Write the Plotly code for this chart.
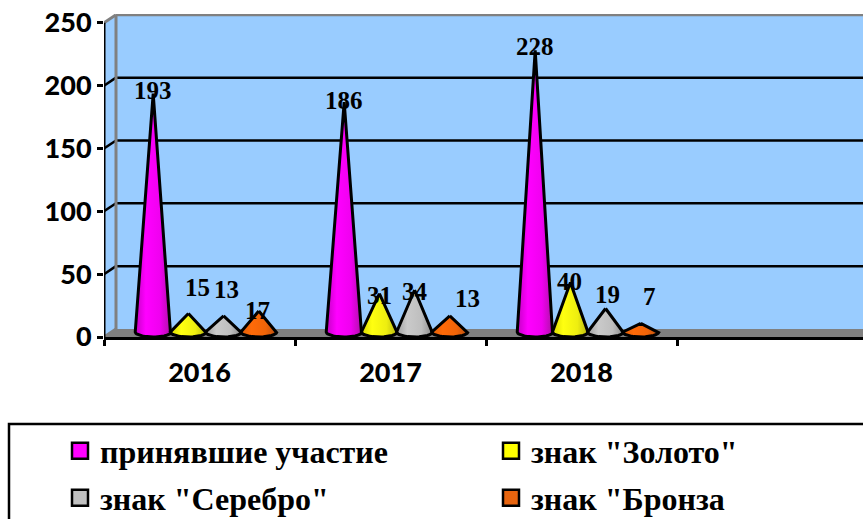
import numpy as np
import plotly.graph_objects as go

years = ["2016", "2017", "2018"]
series_names = ["принявшие участие", 'знак "Золото"', 'знак "Серебро"', 'знак "Бронза']
participated = [193, 186, 228]
gold = [15, 31, 40]
silver = [13, 34, 19]
bronze = [17, 13, 7]
y_ticks = [0, 50, 100, 150, 200, 250]

series_values = [participated, gold, silver, bronze]
swatch_colors = ["#FF00FF", "#FFFF00", "#C0C0C0", "#E8650F"]
gradients = [
    ["#C400C4", "#FF00FF", "#F000F0", "#B010A8"],
    ["#D8D800", "#FFFF10", "#EEEE10", "#B8B810"],
    ["#A0A0A0", "#CACACA", "#BEBEBE", "#8C8C8C"],
    ["#E06008", "#FF6A08", "#F06408", "#B85010"],
]
# pixel nudges of the value labels, per series then per year
label_shift_x = [[0, 0, 0], [9, 0, -1], [3, 0, 2], [-1, 18, 9]]
label_shift_y = [[4, 3, 4], [31, 3, 5], [31, 3, 19], [5, 22, 32]]
# legend cell anchors in pixels
legend_x = [60, 491, 60, 491]
legend_y = [451, 451, 498, 498]

W, H = 863, 519
ML, MT, MB = 104, 14, 182
PX_PER_CAT = 191.0
PW = W - ML
PH = H - MT - MB
X0 = -0.5
X1 = X0 + PW / PX_PER_CAT
Y1 = 257.0
PX_PER_UNIT = PH / Y1
DX = 12 / PX_PER_CAT      # depth of the 3D box in x
DY = 8 / PX_PER_UNIT      # depth of the 3D box in y

px = lambda p: (p - ML) / PW
py = lambda p: (H - MB - p) / PH

STEP = 0.1843
GROUP_SHIFT = 0.034
HALF_W = 0.094
BASE_Y = 4.0
HEIGHT_K = 0.983

fig = go.Figure()

t = np.linspace(0, np.pi, 25)
for s, vals in enumerate(series_values):
    for c, v in enumerate(vals):
        cx = c + GROUP_SHIFT + (s - 1.5) * STEP
        xs = [cx] + list(cx + HALF_W * np.cos(t)) + [cx]
        ys = [BASE_Y + v * HEIGHT_K] + list(BASE_Y - BASE_Y * np.sin(t)) + [BASE_Y + v * HEIGHT_K]
        g = gradients[s]
        fig.add_trace(go.Scatter(
            x=xs, y=ys, mode="lines", fill="toself",
            fillgradient=dict(type="horizontal", colorscale=[[0, g[0]], [0.3, g[1]], [0.7, g[2]], [1, g[3]]]),
            line=dict(color="black", width=3),
            showlegend=False, hoverinfo="skip",
        ))

legend_ids = ["legend", "legend2", "legend3", "legend4"]
for s, name in enumerate(series_names):
    fig.add_trace(go.Scatter(
        x=[None], y=[None], mode="markers", name=name,
        marker=dict(symbol="square", size=19, color=swatch_colors[s], line=dict(color="black", width=2.5)),
        legend=legend_ids[s],
    ))

shapes = []
# side wall, back wall, floor
shapes.append(dict(type="path", layer="below", line=dict(width=0), fillcolor="#99CCFF",
                   path=f"M {X0} 0 L {X0 + DX} {DY} L {X0 + DX} {250 + DY} L {X0} 250 Z"))
shapes.append(dict(type="rect", layer="below", line=dict(width=0), fillcolor="#99CCFF",
                   x0=X0 + DX, x1=X1, y0=0, y1=250 + DY))
shapes.append(dict(type="path", layer="below", line=dict(width=0), fillcolor="#808080",
                   path=f"M {X0} 0 L {X0 + DX} {DY} L {X1} {DY} L {X1} 0 Z"))
# grid lines on walls
for v in y_ticks[1:-1]:
    shapes.append(dict(type="line", layer="below", x0=X0 + DX, x1=X1, y0=v + DY, y1=v + DY,
                       line=dict(color="black", width=2.5)))
    shapes.append(dict(type="line", layer="below", x0=X0, x1=X0 + DX, y0=v, y1=v + DY,
                       line=dict(color="black", width=2.5)))
# gray wall edges
gray = dict(color="#808080", width=3)
shapes.append(dict(type="line", layer="below", x0=X0 + DX, x1=X1, y0=250 + DY, y1=250 + DY, line=gray))
shapes.append(dict(type="line", layer="below", x0=X0 + DX, x1=X0 + DX, y0=DY, y1=250 + DY, line=gray))
shapes.append(dict(type="line", layer="below", x0=X0, x1=X0 + DX, y0=250, y1=250 + DY, line=gray))
shapes.append(dict(type="line", layer="below", x0=X0, x1=X0 + DX, y0=0, y1=DY, line=gray))
# value axis line
shapes.append(dict(type="line", x0=X0, x1=X0, y0=0, y1=250, line=dict(color="black", width=3)))
# legend frame
shapes.append(dict(type="rect", xref="paper", yref="paper", x0=px(9), x1=px(880), y0=py(530), y1=py(424),
                   line=dict(color="black", width=2.5), fillcolor="rgba(0,0,0,0)"))

annotations = []
for s, vals in enumerate(series_values):
    for c, v in enumerate(vals):
        annotations.append(dict(
            x=c + GROUP_SHIFT + (s - 1.5) * STEP, y=v, text=str(v), showarrow=False,
            xshift=label_shift_x[s][c], yshift=label_shift_y[s][c],
            xanchor="center", yanchor="middle",
            font=dict(family="Liberation Serif", size=25, color="black", weight="bold"),
        ))

legends = {
    legend_ids[i]: dict(
        orientation="h", xanchor="left", yanchor="middle", x=px(legend_x[i]), y=py(legend_y[i]),
        bgcolor="rgba(0,0,0,0)", borderwidth=0,
        font=dict(family="Liberation Serif", size=32, color="black", weight="bold"),
    )
    for i in range(4)
}

fig.update_layout(
    width=W, height=H, autosize=False,
    margin=dict(l=ML, r=0, t=MT, b=MB, pad=0, autoexpand=False),
    paper_bgcolor="white", plot_bgcolor="white",
    showlegend=True,
    shapes=shapes, annotations=annotations,
    xaxis=dict(
        range=[X0, X1], tickmode="array", tickvals=[0, 1, 2], ticktext=years,
        ticks="outside", ticklen=10, tickcolor="rgba(0,0,0,0)",
        tickfont=dict(family="Lato", size=27, color="black", weight=900),
        showgrid=False, zeroline=False, showline=True, linecolor="black", linewidth=3,
        minor=dict(tickmode="array", tickvals=[-0.5, 0.5, 1.5, 2.5, 3.5], ticks="outside",
                   ticklen=6, tickcolor="black", tickwidth=3, showgrid=False),
    ),
    yaxis=dict(
        range=[0, Y1], tickmode="array", tickvals=y_ticks,
        ticks="outside", ticklen=6, tickcolor="black", tickwidth=3,
        tickfont=dict(family="Lato", size=27, color="black", weight=900),
        showgrid=False, zeroline=False, showline=False,
    ),
    **legends,
)

fig.write_html("out.html", config={"displayModeBar": False},
               post_script="document.body.style.margin='0';document.body.style.overflow='hidden';")
